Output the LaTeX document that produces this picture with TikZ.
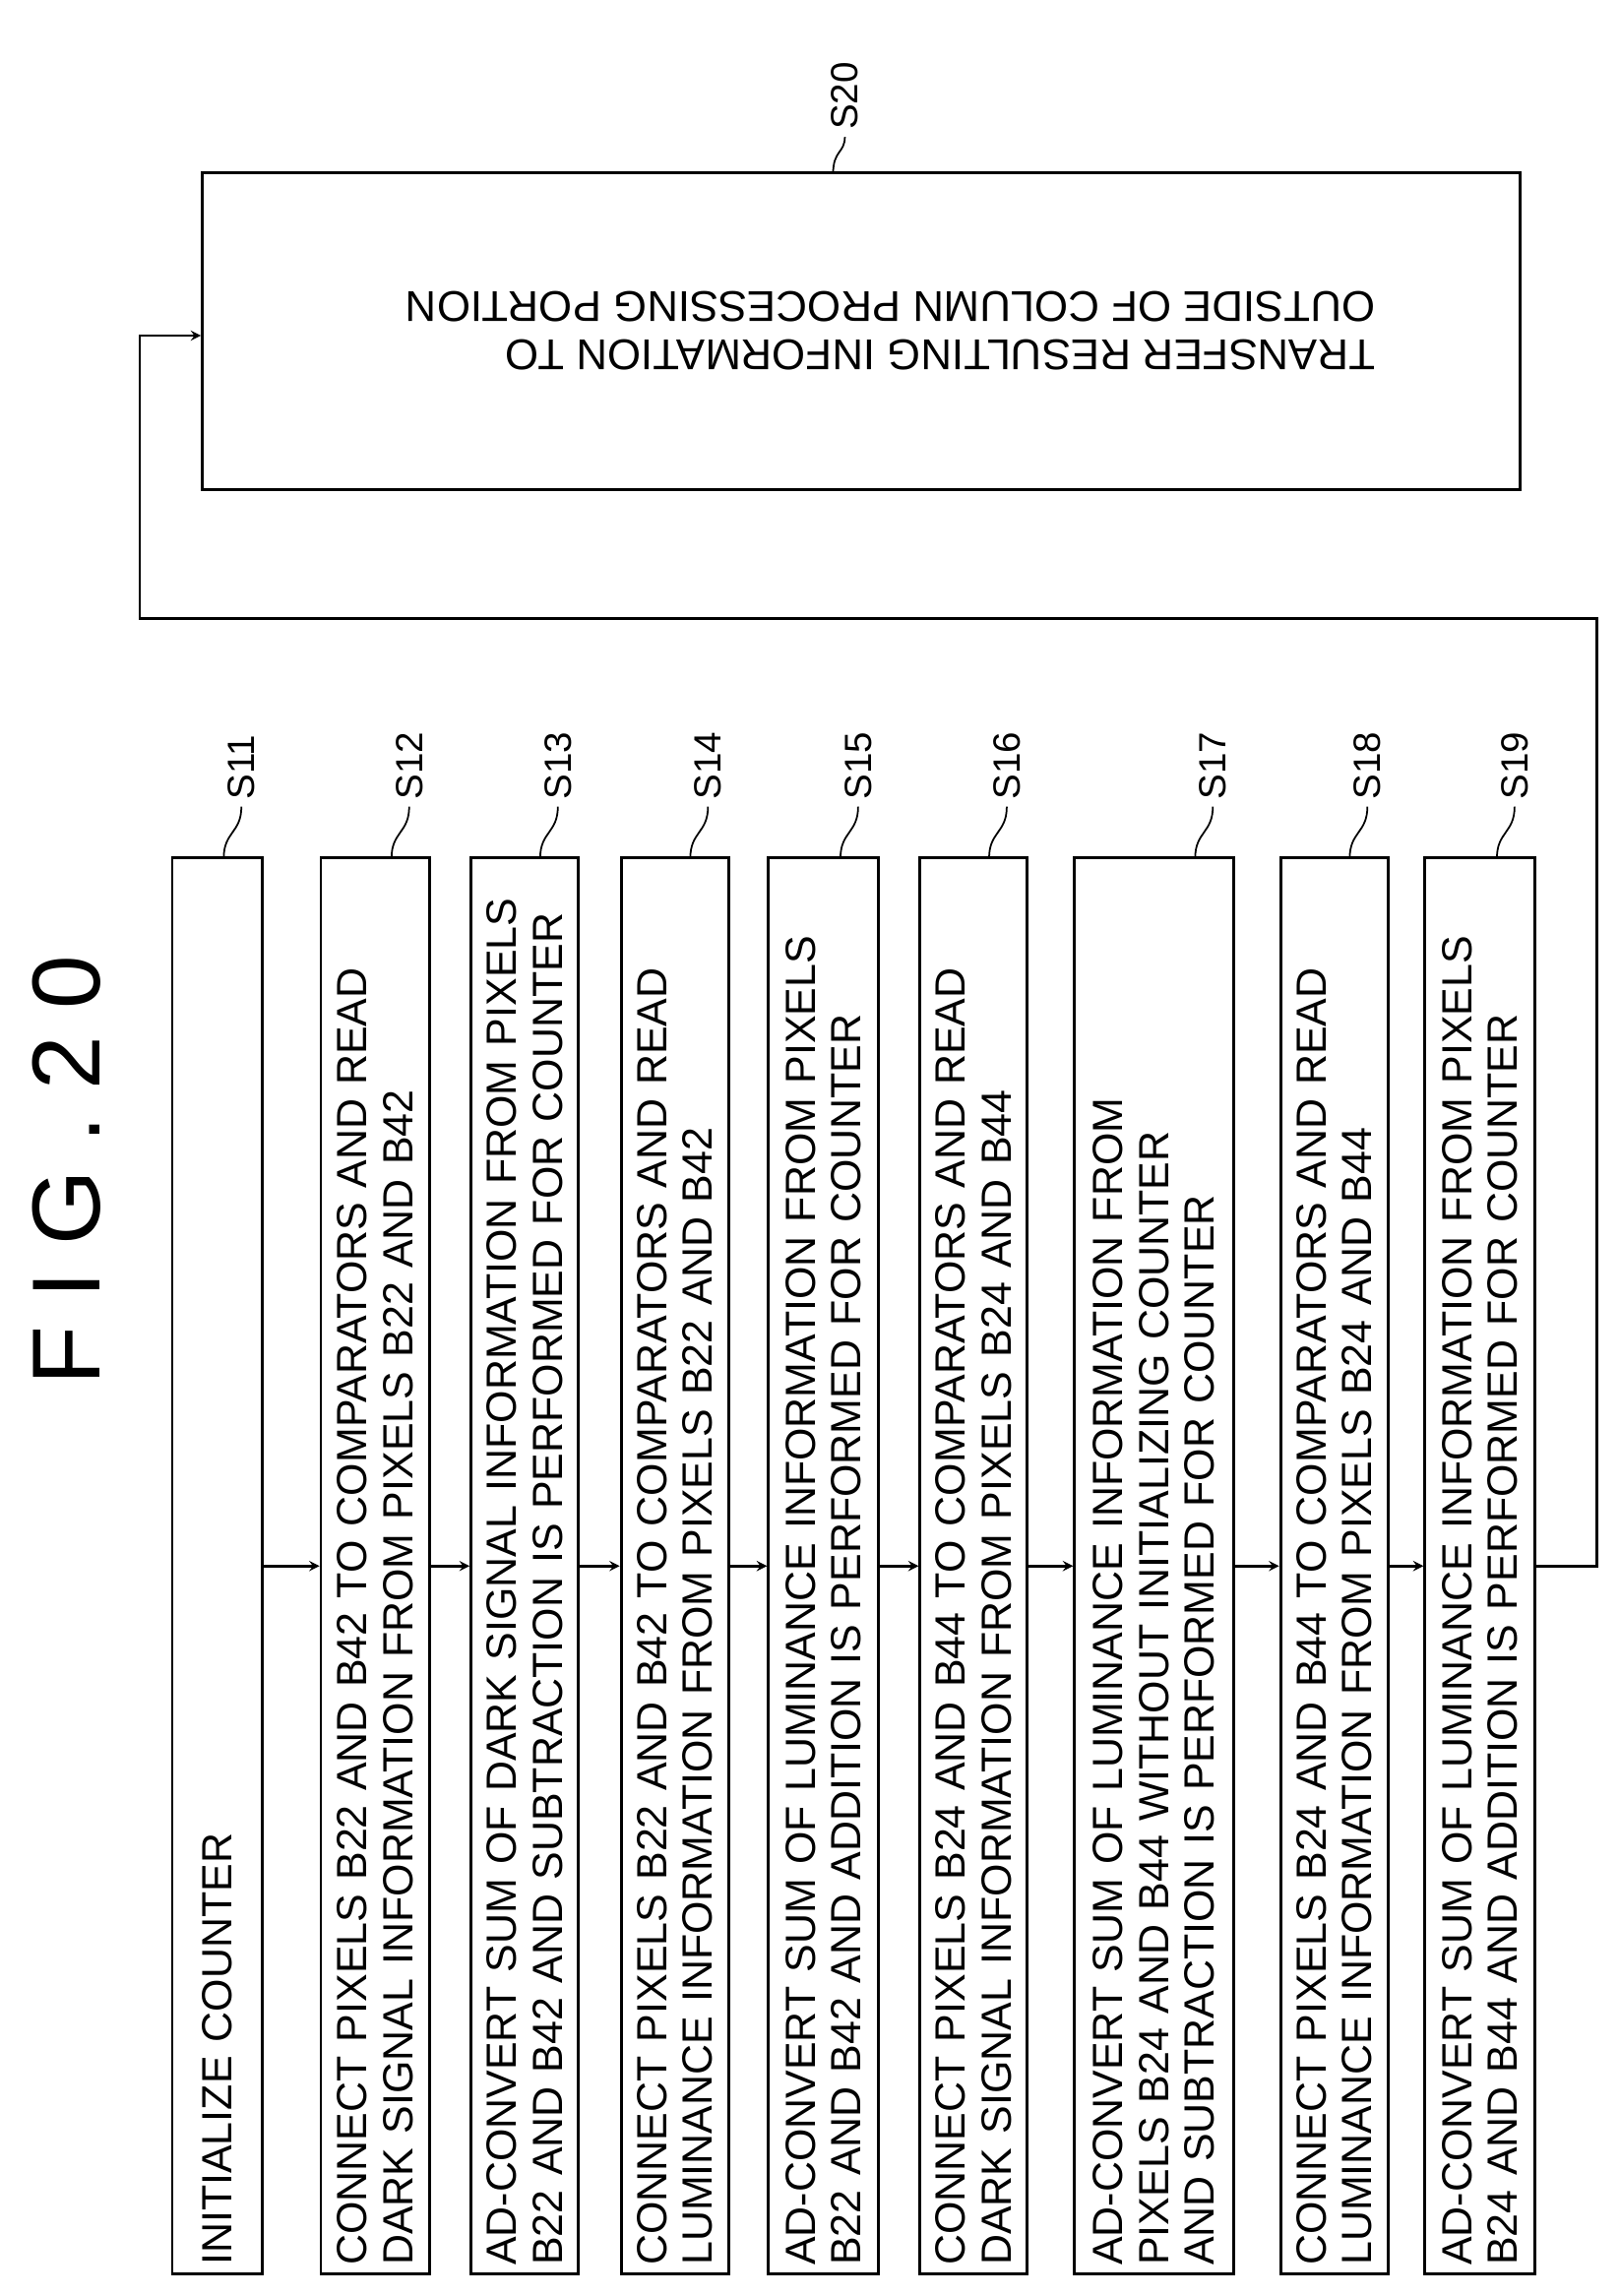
\documentclass[tikz,border=0pt]{standalone}
\usepackage{fontspec}
\setmainfont{Liberation Sans}
\begin{document}
\begin{tikzpicture}[x=0.03cm,y=-0.03cm,line width=1.6pt,
 box/.style={draw,rotate=90,minimum width=28.86cm,align=left,inner sep=5pt,font=\fontsize{24.5}{26.5}\selectfont},
 lab/.style={rotate=90,font=\fontsize{22}{24}\selectfont},
 arr/.style={->,>=stealth}]
\useasboundingbox (0,0) rectangle (1100,1560);
\node[rotate=90,font=\fontsize{56}{64}\selectfont] (title) at (45,795) {F I G . 2 0};
\foreach \n/\a/\b/\t in {
 11/117/178/{INITIALIZE COUNTER},
 12/218/292/{CONNECT PIXELS B22 AND B42 TO COMPARATORS AND READ\\DARK SIGNAL INFORMATION FROM PIXELS B22 AND B42},
 13/320/393/{AD-CONVERT SUM OF DARK SIGNAL INFORMATION FROM PIXELS\\B22 AND B42 AND SUBTRACTION IS PERFORMED FOR COUNTER},
 14/422/495/{CONNECT PIXELS B22 AND B42 TO COMPARATORS AND READ\\LUMINANCE INFORMATION FROM PIXELS B22 AND B42},
 15/522/597/{AD-CONVERT SUM OF LUMINANCE INFORMATION FROM PIXELS\\B22 AND B42 AND ADDITION IS PERFORMED FOR COUNTER},
 16/625/698/{CONNECT PIXELS B24 AND B44 TO COMPARATORS AND READ\\DARK SIGNAL INFORMATION FROM PIXELS B24 AND B44},
 17/730/838/{AD-CONVERT SUM OF LUMINANCE INFORMATION FROM\\PIXELS B24 AND B44 WITHOUT INITIALIZING COUNTER\\AND SUBTRACTION IS PERFORMED FOR COUNTER},
 18/870/943/{CONNECT PIXELS B24 AND B44 TO COMPARATORS AND READ\\LUMINANCE INFORMATION FROM PIXELS B24 AND B44},
 19/968/1043/{AD-CONVERT SUM OF LUMINANCE INFORMATION FROM PIXELS\\B24 AND B44 AND ADDITION IS PERFORMED FOR COUNTER}}{
 \pgfmathsetmacro\w{(\b-\a)*0.03}
 \node[box,minimum height=\w cm,text width=28.5cm] (s\n) at ({(\a+\b)/2},1064) {\t};
 \node[lab,anchor=west] (l\n) at ({\b-14},548) {S\n};
 \draw[line width=1pt] ({\b-26},583) .. controls ({\b-26},565) and ({\b-14},566) .. (l\n.west);
}
\foreach \p/\q in {11/12,12/13,13/14,14/15,15/16,16/17,17/18,18/19}{
 \draw[arr] (s\p.south) -- (s\q.north);}
\node[draw,rotate=180,minimum width=26.85cm,minimum height=6.45cm,align=left,font=\fontsize{25}{28}\selectfont] (s20) at (585,225) {TRANSFER RESULTING INFORMATION TO\\OUTSIDE OF COLUMN PROCESSING PORTION\hspace*{1.2cm}};
\node[lab,anchor=west] (l20) at (574,93) {S20};
\draw[line width=1pt] (566,118) .. controls (566,102) and (574,104) .. (l20.west);
\coordinate (c2) at (1085,420);
\coordinate (c3) at (95,420);
\coordinate (c4) at (95,228);
\draw[arr] (s19.south) -| (c2) -- (c3) -- (c4) -- (s20.east |- c4);
\end{tikzpicture}
\end{document}
